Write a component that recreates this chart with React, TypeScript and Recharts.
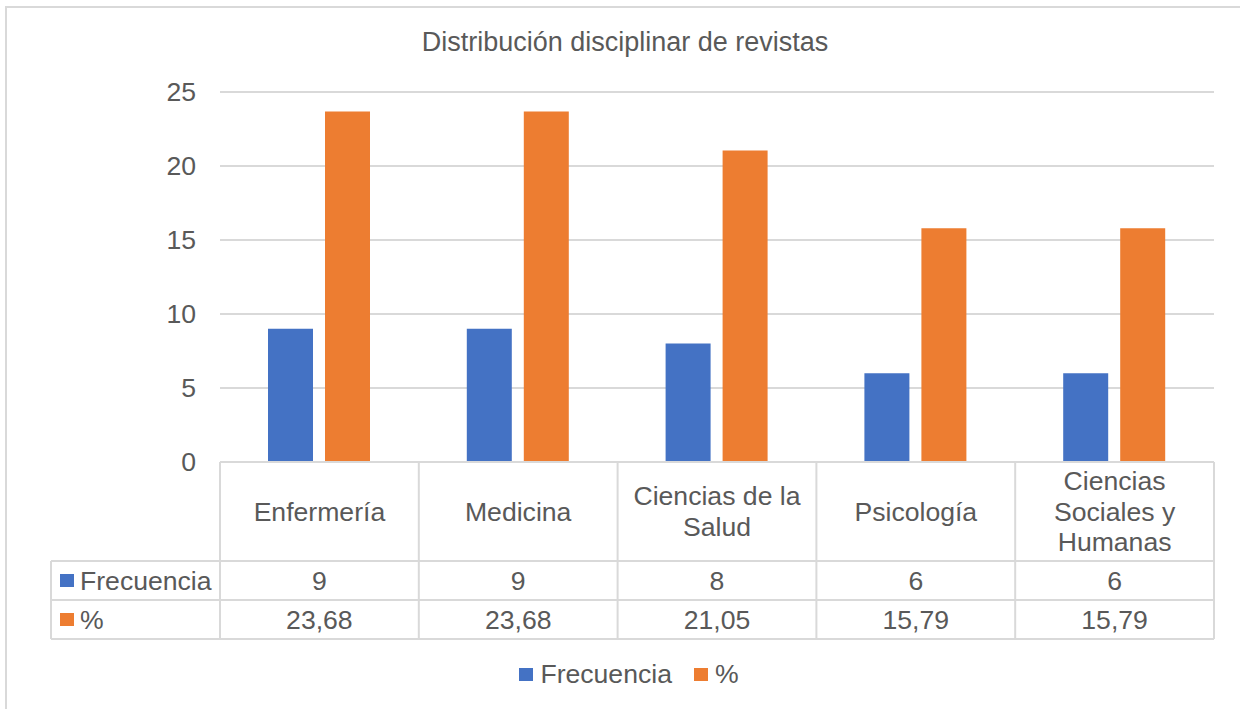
import React from 'react'
import { BarChart, Bar, XAxis, YAxis, CartesianGrid, Legend } from 'recharts'

// valores
const categories = ['Enfermería', 'Medicina', 'Ciencias de la Salud', 'Psicología', 'Ciencias Sociales y Humanas']
const frecuencia = [9, 9, 8, 6, 6]
const porcentaje = [23.68, 23.68, 21.05, 15.79, 15.79]
const yTicks = [0, 5, 10, 15, 20, 25]
const seriesNames = ['Frecuencia', '%']

const BLUE = '#4472c4'
const ORANGE = '#ed7d31'
const TEXT = '#595959'
const LINE = '#d9d9d9'
const FONT = '"Liberation Sans", Arial, sans-serif'
const FS = 26.6

const W = 1240
const H = 709
const MARGIN = { top: 92, right: 26, bottom: 0, left: 0 }
const Y_W = 220
const PLOT_W = W - MARGIN.left - MARGIN.right - Y_W
const BAND = PLOT_W / categories.length
const TABLE_LEFT = 51
const CAT_ROW = 99
const VAL_ROW = 39
const X_AXIS_H = CAT_ROW + 2 * VAL_ROW
const LEGEND_H = 70

const data = categories.map((name, i) => ({
  name,
  frecuencia: frecuencia[i],
  pct: porcentaje[i],
}))

const fmt = (v: number) => v.toFixed(2).replace('.', ',')

function wrap(label: string, max = 14) {
  const lines: string[] = []
  let cur = ''
  for (const w of label.split(' ')) {
    const next = cur ? cur + ' ' + w : w
    if (next.length > max && cur) {
      lines.push(cur)
      cur = w
    } else cur = next
  }
  if (cur) lines.push(cur)
  return lines
}

const txt = { fontFamily: FONT, fontSize: FS, fill: TEXT }

// tabla de datos debajo del eje, dibujada desde los ticks del eje X
function TableTick(props: any) {
  const { x, y, payload } = props
  const i: number = payload.index ?? props.index
  const n = categories.length
  const left = x - BAND / 2
  const right = x + BAND / 2
  const r1 = y + CAT_ROW
  const r2 = r1 + VAL_ROW
  const bottom = r2 + VAL_ROW
  const lines = wrap(String(payload.value))
  const lh = 30.5
  const first = y + CAT_ROW / 2 - ((lines.length - 1) * lh) / 2
  const tableRight = x + BAND * (n - 0.5)
  const rowLabels = [
    { name: seriesNames[0], color: BLUE, mid: r1 + VAL_ROW / 2 },
    { name: seriesNames[1], color: ORANGE, mid: r2 + VAL_ROW / 2 },
  ]
  return (
    <g>
      {i === 0 && (
        <g>
          {[r1, r2, bottom].map((ly) => (
            <line key={ly} x1={TABLE_LEFT} x2={tableRight} y1={ly} y2={ly} stroke={LINE} strokeWidth={2} />
          ))}
          <line x1={TABLE_LEFT} x2={TABLE_LEFT} y1={r1} y2={bottom} stroke={LINE} strokeWidth={2} />
          {rowLabels.map((r) => (
            <g key={r.name}>
              <rect x={60} y={r.mid - 6.5} width={14} height={13} fill={r.color} />
              <text x={80} y={r.mid} dominantBaseline="central" textAnchor="start" {...txt}>
                {r.name}
              </text>
            </g>
          ))}
        </g>
      )}
      <line x1={left} x2={left} y1={y} y2={bottom} stroke={LINE} strokeWidth={2} />
      {i === n - 1 && <line x1={right} x2={right} y1={y} y2={bottom} stroke={LINE} strokeWidth={2} />}
      <text x={x} y={first} textAnchor="middle" dominantBaseline="central" {...txt}>
        {lines.map((l, k) => (
          <tspan key={k} x={x} dy={k === 0 ? 0 : lh}>
            {l}
          </tspan>
        ))}
      </text>
      <text x={x} y={r1 + VAL_ROW / 2} textAnchor="middle" dominantBaseline="central" {...txt}>
        {frecuencia[i]}
      </text>
      <text x={x} y={r2 + VAL_ROW / 2} textAnchor="middle" dominantBaseline="central" {...txt}>
        {fmt(porcentaje[i])}
      </text>
    </g>
  )
}

function LegendContent(props: any) {
  const items = [...(props.payload || [])].sort(
    (a: any, b: any) => seriesNames.indexOf(a.value) - seriesNames.indexOf(b.value)
  )
  return (
    <div
      style={{
        height: LEGEND_H,
        display: 'flex',
        alignItems: 'center',
        justifyContent: 'center',
        fontFamily: FONT,
        fontSize: FS,
        color: TEXT,
      }}
    >
      {items.map((e: any, k: number) => (
        <span key={e.value} style={{ display: 'flex', alignItems: 'center', marginLeft: k ? 22 : 0 }}>
          <span style={{ width: 14, height: 13, background: e.color, marginRight: 7, display: 'inline-block' }} />
          {e.value}
        </span>
      ))}
    </div>
  )
}

export default function App() {
  return (
    <div style={{ position: 'absolute', left: 0, top: 0, width: W, height: H, overflow: 'hidden', background: '#fff' }}>
      <div
        style={{
          position: 'absolute',
          left: 5,
          top: 6,
          width: 1300,
          height: 800,
          border: `2px solid ${LINE}`,
        }}
      />
      <div
        style={{
          position: 'absolute',
          left: 10,
          top: 29,
          width: 1230,
          textAlign: 'center',
          fontFamily: FONT,
          fontSize: 27,
          lineHeight: '26px',
          color: TEXT,
        }}
      >
        Distribución disciplinar de revistas
      </div>
      <BarChart width={W} height={H} data={data} margin={MARGIN} barGap={12}>
        <CartesianGrid horizontal vertical={false} stroke={LINE} strokeWidth={2} />
        <XAxis
          dataKey="name"
          height={X_AXIS_H}
          interval={0}
          tickLine={false}
          tickSize={0}
          tickMargin={0}
          axisLine={{ stroke: LINE, strokeWidth: 2 }}
          tick={<TableTick />}
        />
        <YAxis
          width={Y_W}
          domain={[0, 25]}
          ticks={yTicks}
          axisLine={false}
          tickLine={false}
          tickSize={0}
          tickMargin={24}
          tick={txt}
        />
        <Legend
          verticalAlign="bottom"
          height={LEGEND_H}
          wrapperStyle={{ left: 20, width: 1218 }}
          content={<LegendContent />}
        />
        <Bar dataKey="frecuencia" name={seriesNames[0]} fill={BLUE} barSize={45} isAnimationActive={false} />
        <Bar dataKey="pct" name={seriesNames[1]} fill={ORANGE} barSize={45} isAnimationActive={false} />
      </BarChart>
    </div>
  )
}
